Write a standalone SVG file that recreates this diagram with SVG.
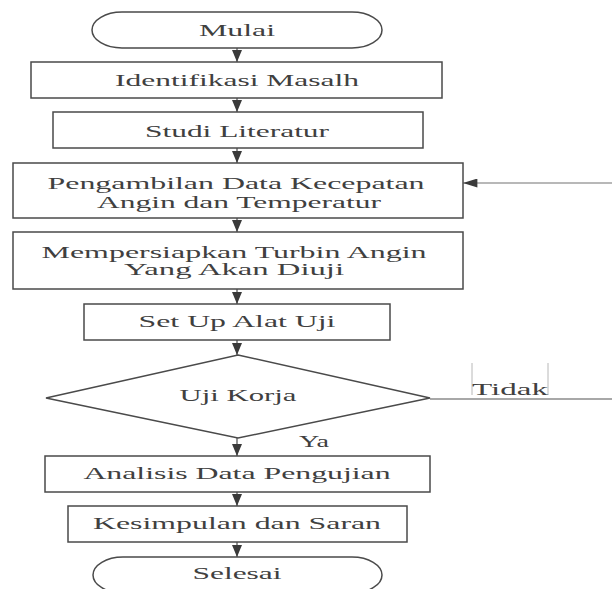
<svg xmlns="http://www.w3.org/2000/svg" width="612" height="589" viewBox="0 0 612 589">
<style>
.box{fill:#fff;stroke:#4a4a4a;stroke-width:1.5}
.t{font-family:"Liberation Serif","Times New Roman",serif;font-size:16px;fill:#404040;text-anchor:middle}
.c{stroke:#4a4a4a;stroke-width:1.2;fill:none}
</style>
<defs>
<marker id="ah" viewBox="0 0 12 10" refX="12" refY="5" markerWidth="12" markerHeight="10" markerUnits="userSpaceOnUse" orient="auto">
<path d="M0,0 L12,5 L0,10 Z" fill="#3a3a3a"/>
</marker>
<marker id="ahl" viewBox="0 0 16 10" refX="16" refY="5" markerWidth="16" markerHeight="9" markerUnits="userSpaceOnUse" orient="auto">
<path d="M0,0 L16,5 L0,10 Z" fill="#3a3a3a"/>
</marker>
</defs>
<rect width="612" height="589" fill="#fff"/>
<g id="connectors">
<line class="c" x1="237" y1="48" x2="237" y2="62" marker-end="url(#ah)"/>
<line class="c" x1="237" y1="98" x2="237" y2="112" marker-end="url(#ah)"/>
<line class="c" x1="237" y1="148" x2="237" y2="163" marker-end="url(#ah)"/>
<line class="c" x1="237" y1="218" x2="237" y2="232" marker-end="url(#ah)"/>
<line class="c" x1="237" y1="289" x2="237" y2="304" marker-end="url(#ah)"/>
<line class="c" x1="237" y1="340" x2="237" y2="355" marker-end="url(#ah)"/>
<line class="c" x1="237" y1="438" x2="237" y2="456" marker-end="url(#ah)"/>
<line class="c" x1="237" y1="492" x2="237" y2="506" marker-end="url(#ah)"/>
<line class="c" x1="237" y1="542" x2="237" y2="557" marker-end="url(#ah)"/>
<line x1="430" y1="399" x2="612" y2="399" stroke="#a8a8a8" stroke-width="2"/>
<line x1="612" y1="183" x2="463" y2="183" stroke="#a0a0a0" stroke-width="1.5" marker-end="url(#ahl)"/>
<line x1="472" y1="363" x2="472" y2="395" stroke="#b8b8b8" stroke-width="1"/>
<line x1="548" y1="363" x2="548" y2="395" stroke="#b8b8b8" stroke-width="1"/>
<text class="t" transform="translate(510,395) scale(1.6,1)" textLength="47.5" lengthAdjust="spacingAndGlyphs">Tidak</text>
<text class="t" transform="translate(314,447) scale(1.6,1)" textLength="18.75" lengthAdjust="spacingAndGlyphs">Ya</text>
</g>
<g id="mulai">
<rect class="box" x="92" y="12" width="290" height="36" rx="30" ry="18"/>
<text class="t" transform="translate(237,36) scale(1.6,1)" textLength="47.5" lengthAdjust="spacingAndGlyphs">Mulai</text>
</g>
<g id="identifikasi">
<rect class="box" x="31" y="62" width="411" height="36"/>
<text class="t" transform="translate(237,86) scale(1.6,1)" textLength="152.5" lengthAdjust="spacingAndGlyphs">Identifikasi Masalh</text>
</g>
<g id="studi">
<rect class="box" x="53" y="112" width="370" height="36"/>
<text class="t" transform="translate(237,137) scale(1.6,1)" textLength="115" lengthAdjust="spacingAndGlyphs">Studi Literatur</text>
</g>
<g id="pengambilan">
<rect class="box" x="13" y="163" width="450" height="55"/>
<text class="t" transform="translate(236,189) scale(1.6,1)" textLength="235.6" lengthAdjust="spacingAndGlyphs">Pengambilan Data Kecepatan</text>
<text class="t" transform="translate(239,208) scale(1.6,1)" textLength="177.5" lengthAdjust="spacingAndGlyphs">Angin dan Temperatur</text>
</g>
<g id="mempersiapkan">
<rect class="box" x="13" y="232" width="450" height="57"/>
<text class="t" transform="translate(234,258) scale(1.6,1)" textLength="240.6" lengthAdjust="spacingAndGlyphs">Mempersiapkan Turbin Angin</text>
<text class="t" transform="translate(234,275) scale(1.6,1)" textLength="137.5" lengthAdjust="spacingAndGlyphs">Yang Akan Diuji</text>
</g>
<g id="setup">
<rect class="box" x="84" y="304" width="306" height="36"/>
<text class="t" transform="translate(237,327) scale(1.6,1)" textLength="123" lengthAdjust="spacingAndGlyphs">Set Up Alat Uji</text>
</g>
<g id="ujikerja">
<polygon class="box" points="238,355 430,398 238,438 46,398"/>
<text class="t" transform="translate(238,401) scale(1.6,1)" textLength="73" lengthAdjust="spacingAndGlyphs">Uji Korja</text>
</g>
<g id="analisis">
<rect class="box" x="45" y="456" width="385" height="36"/>
<text class="t" transform="translate(237,479) scale(1.6,1)" textLength="192" lengthAdjust="spacingAndGlyphs">Analisis Data Pengujian</text>
</g>
<g id="kesimpulan">
<rect class="box" x="68" y="506" width="339" height="36"/>
<text class="t" transform="translate(237,529) scale(1.6,1)" textLength="180" lengthAdjust="spacingAndGlyphs">Kesimpulan dan Saran</text>
</g>
<g id="selesai">
<rect class="box" x="93" y="557" width="289" height="36" rx="30" ry="18"/>
<text class="t" transform="translate(237,579) scale(1.6,1)" textLength="55.6" lengthAdjust="spacingAndGlyphs">Selesai</text>
</g>
</svg>
